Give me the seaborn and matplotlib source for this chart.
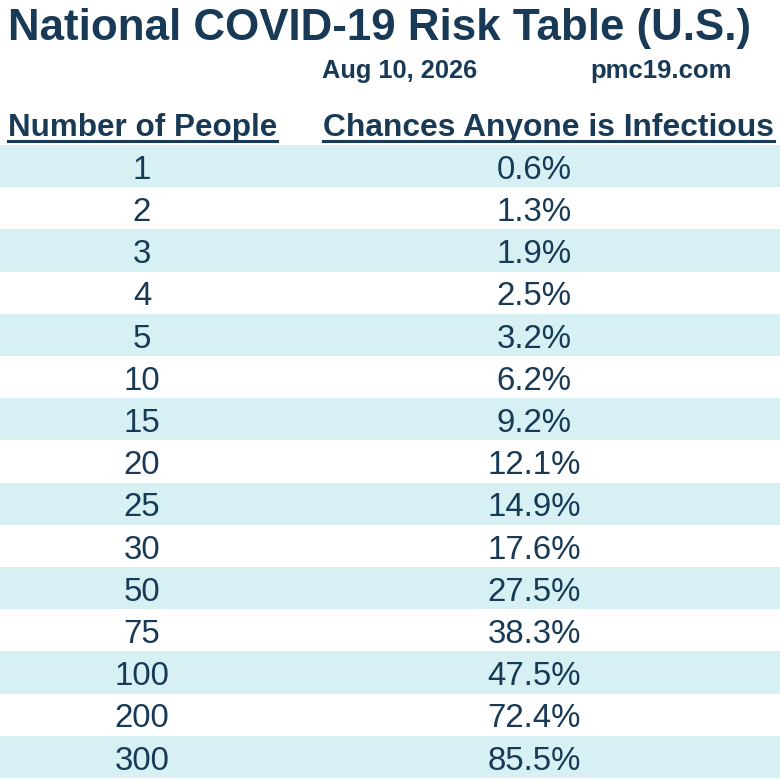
import matplotlib.pyplot as plt
import matplotlib.transforms as mtransforms
import numpy as np
import pandas as pd
import seaborn as sns
from matplotlib.colors import ListedColormap
from matplotlib.lines import Line2D

people = [1, 2, 3, 4, 5, 10, 15, 20, 25, 30, 50, 75, 100, 200, 300]
chances = [0.6, 1.3, 1.9, 2.5, 3.2, 6.2, 9.2, 12.1, 14.9, 17.6, 27.5, 38.3, 47.5, 72.4, 85.5]
title = 'National COVID-19 Risk Table (U.S.)'
date_label = 'Aug 10, 2026'
site_label = 'pmc19.com'
headers = ['Number of People', 'Chances Anyone is Infectious']

navy = '#183A56'
band = '#D6F0F4'

plt.rcParams['font.family'] = ['Liberation Sans', 'DejaVu Sans']

W, H = 780, 781
fig = plt.figure(figsize=(W / 100, H / 100), dpi=100)


def fy(py):
    return 1 - py / H


# banded rows drawn as a one-column heatmap
df = pd.DataFrame({'people': people, 'chance': chances})
df['band'] = np.arange(len(df)) % 2
top, bottom = 145, 778
ax = fig.add_axes([0, fy(bottom), 1, (bottom - top) / H])
sns.heatmap(df[['band']], cmap=ListedColormap([band, 'white']), cbar=False,
            ax=ax, xticklabels=False, yticklabels=False, vmin=0, vmax=1)
ax.set_xlabel('')
ax.set_ylabel('')

trans = mtransforms.blended_transform_factory(ax.transAxes, ax.transData)
for i, row in df.iterrows():
    ax.text(142 / W, i + 0.8, f"{int(row['people'])}", transform=trans,
            ha='center', va='baseline', fontsize=23.8, color=navy)
    ax.text(534 / W, i + 0.8, f"{row['chance']:.1f}%", transform=trans,
            ha='center', va='baseline', fontsize=23.8, color=navy)

# title and sub labels
fig.text(8 / W, fy(40), title, ha='left', va='baseline', fontsize=31.6,
         fontweight='bold', color=navy)
fig.text(322 / W, fy(78), date_label, ha='left', va='baseline', fontsize=18.3,
         fontweight='bold', color=navy)
fig.text(590 / W, fy(78), site_label, ha='left', va='baseline', fontsize=18.5,
         fontweight='bold', color=navy)

# column headers, underlined
h1 = fig.text(8 / W, fy(136), headers[0], ha='left', va='baseline', fontsize=22.6,
              fontweight='bold', color=navy)
h2 = fig.text(323 / W, fy(136), headers[1], ha='left', va='baseline', fontsize=22.9,
              fontweight='bold', color=navy)
fig.canvas.draw()
renderer = fig.canvas.get_renderer()
for h in (h1, h2):
    bb = h.get_window_extent(renderer).transformed(fig.transFigure.inverted())
    fig.add_artist(Line2D([bb.x0, bb.x1], [fy(141), fy(141)], color=navy,
                          linewidth=2.2, transform=fig.transFigure))

fig.savefig('out.png', dpi=100)
